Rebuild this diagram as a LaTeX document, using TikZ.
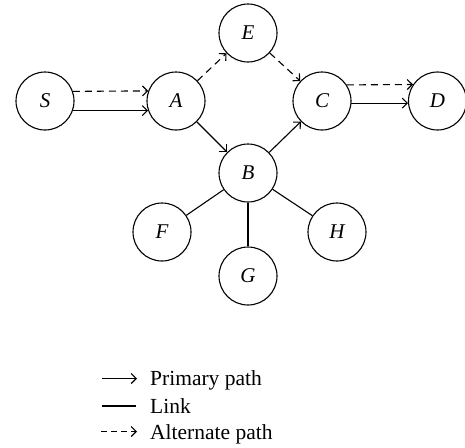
\documentclass[tikz,border=0pt]{standalone}
\usepackage{fontspec}
\setmainfont{Liberation Serif}
\usetikzlibrary{arrows.meta}
\begin{document}
\begin{tikzpicture}[x=1pt,y=-1pt,
  vtx/.style={circle,draw,line width=1.1pt,minimum size=58pt,inner sep=0pt,font=\fontsize{21}{21}\selectfont\itshape},
  conn/.style={line width=1.1pt},
  prim/.style={conn,-{Straight Barb[length=5pt,width=10pt,line width=1.1pt]}},
  alt/.style={prim,dash pattern=on 7pt off 5pt},
  lgtext/.style={anchor=base west,inner sep=0pt,font=\fontsize{21.5}{21.5}\selectfont}]
\useasboundingbox (0,0) rectangle (465,447);
\node[vtx] (S) at (45,101) {S};
\node[vtx] (A) at (176,101) {A};
\node[vtx] (E) at (248,33) {E};
\node[vtx] (C) at (322,101) {C};
\node[vtx] (D) at (437.5,101) {D};
\node[vtx] (B) at (248,173) {B};
\node[vtx] (F) at (162,232) {F};
\node[vtx] (G) at (248,276) {G};
\node[vtx] (H) at (337,232) {H};
% connectors
\draw[alt] (S.19.5) -- (A.160.5);
\draw[prim] (S.-19.5) -- (A.199.5);
\draw[alt] (A) -- (E);
\draw[alt] (E) -- (C);
\draw[prim] (A) -- (B);
\draw[prim] (B) -- (C);
\draw[alt] (C.33.5) -- (D.146.5);
\draw[prim] (C.-4.5) -- (D.184.5);
\draw[conn] (B) -- (F);
\draw[conn] (B) -- (G);
\draw[conn] (B) -- (H);
% legend
\coordinate (p1) at (102,378.5);
\coordinate (p2) at (137,378.5);
\coordinate (l1) at (102,406);
\coordinate (l2) at (136,406);
\coordinate (a1) at (101,431.5);
\coordinate (a2) at (137,431.5);
\draw[prim] (p1) -- (p2);
\draw[conn] (l1) -- (l2);
\draw[prim,dash pattern=on 6pt off 4pt] (a1) -- (a2);
\node[lgtext] (tp) at (150,385) {Primary path};
\node[lgtext] (tl) at (150,413) {Link};
\node[lgtext] (ta) at (150,439) {Alternate path};
\end{tikzpicture}
\end{document}
